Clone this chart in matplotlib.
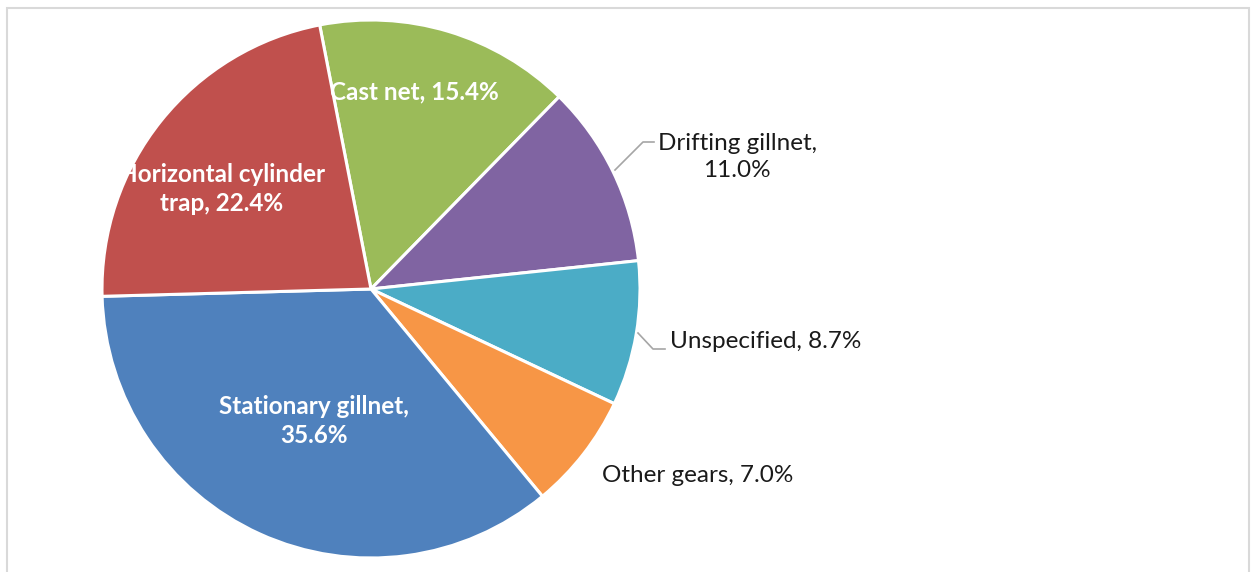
import matplotlib.pyplot as plt
from matplotlib.patches import Rectangle

# data (clockwise from the top, as in the original Excel chart)
gears = ['Cast net', 'Drifting gillnet', 'Unspecified', 'Other gears',
         'Stationary gillnet', 'Horizontal cylinder trap']
shares = [15.4, 11.0, 8.7, 7.0, 35.6, 22.4]
colors = ['#9BBB59', '#8064A2', '#4BACC6', '#F79646', '#4F81BD', '#C0504D']

# label text as shown in the chart
label_text = ['Cast net, 15.4%', 'Drifting gillnet,\n11.0%', 'Unspecified, 8.7%',
              'Other gears, 7.0%', 'Stationary gillnet,\n35.6%',
              'Horizontal cylinder\ntrap, 22.4%']

W, H = 1251, 572
fig = plt.figure(figsize=(W / 100, H / 100), dpi=100)
ax = fig.add_axes([0, 0, 1, 1])

cx, cy, r = 371, H - 289, 269
wedges, _ = ax.pie(shares, colors=colors, startangle=90 + 11, counterclock=False,
                   center=(cx, cy), radius=r, frame=True,
                   wedgeprops=dict(edgecolor='white', linewidth=2.2))

ax.set_xlim(0, W)
ax.set_ylim(0, H)
ax.set_aspect('equal')
ax.axis('off')

font = 'Lato'
fs = 17.5

# labels inside the slices (white, bold)
inside = {0: (414, 92), 4: (314, 421), 5: (222, 189)}
for i, (x, y) in inside.items():
    ax.text(x, H - y, label_text[i], color='white', fontsize=fs, fontweight='bold',
            family=font, ha='center', va='center', linespacing=1.3)

# labels outside
ax.text(737, H - 157, label_text[1], fontsize=fs, family=font, ha='center',
        va='center', linespacing=1.3, color='#1a1a1a')
ax.text(670, H - 342, label_text[2], fontsize=fs, family=font, ha='left',
        va='center', color='#1a1a1a')
ax.text(602, H - 476, label_text[3], fontsize=fs, family=font, ha='left',
        va='center', color='#1a1a1a')

# leader lines
ax.plot([615, 643, 654], [H - 170, H - 142, H - 142], color='#A6A6A6', lw=1.2)
ax.plot([638, 653, 665], [H - 333, H - 349, H - 349], color='#A6A6A6', lw=1.2)

# chart frame
ax.add_patch(Rectangle((6.5, -20), 1242.5, H - 8 + 20, fill=False,
                       edgecolor='#D9D9D9', lw=1.5, clip_on=False))

fig.savefig('out.png', dpi=100)
